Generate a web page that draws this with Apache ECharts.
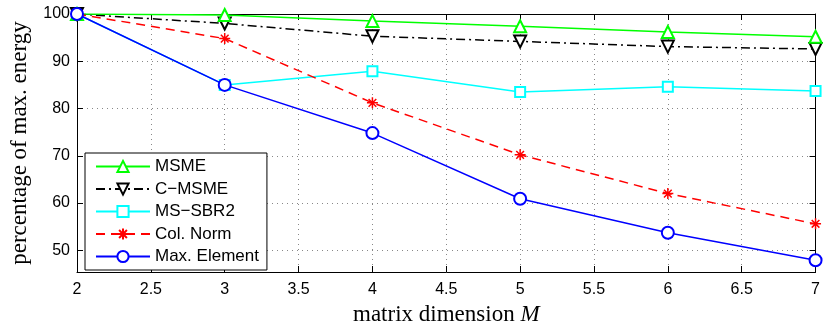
<!DOCTYPE html>
<html><head><meta charset="utf-8">
<script src="https://cdn.jsdelivr.net/npm/echarts@6/dist/echarts.min.js"></script>
<style>html,body{margin:0;padding:0;background:#fff}#c{width:823px;height:331px}</style>
</head><body><div id="c"></div>
<script>
const xValues = [2, 3, 4, 5, 6, 7];
const xTicks = [2, 2.5, 3, 3.5, 4, 4.5, 5, 5.5, 6, 6.5, 7];
const yTicks = [50, 60, 70, 80, 90, 100];
const msme = [100, 99.8, 98.5, 97.4, 96.2, 95.2];
const cmsme = [100, 98.0, 95.3, 94.2, 93.1, 92.6];
const msSbr2 = [100, 85.0, 87.9, 83.5, 84.6, 83.7];
const colNorm = [100, 94.8, 81.2, 70.2, 62.0, 55.6];
const maxElement = [100, 85.0, 74.8, 60.9, 53.7, 47.9];
const names = ['MSME', 'C\u2212MSME', 'MS\u2212SBR2', 'Col. Norm', 'Max. Element'];

const pair = arr => xValues.map((x, i) => [x, arr[i]]);
const star = 'path://M0,-10L0,10M-10,0L10,0M-7,-7L7,7M-7,7L7,-7';
const font = 'Liberation Sans';
const serif = 'Liberation Serif';
const gridLine = {show: true, lineStyle: {color: '#888', type: [1, 4], width: 1}};

const chart = echarts.init(document.getElementById('c'), null, {renderer: 'canvas'});
chart.setOption({
  animation: false,
  backgroundColor: '#fff',
  grid: {left: 77, right: 2, top: 14, bottom: 55, containLabel: false},
  xAxis: [{
    type: 'value', min: 2, max: 7, interval: 0.5,
    axisLine: {lineStyle: {color: '#000', width: 1}},
    axisTick: {inside: true, length: 6, lineStyle: {color: '#000'}},
    axisLabel: {color: '#000', fontFamily: font, fontSize: 16, margin: 10,
      customValues: xTicks, formatter: v => String(v)},
    splitLine: gridLine,
    name: '{a|matrix dimension }{b|M}', nameLocation: 'middle', nameGap: 31,
    nameTextStyle: {rich: {
      a: {fontFamily: serif, fontSize: 23, color: '#000'},
      b: {fontFamily: serif, fontStyle: 'italic', fontSize: 23, color: '#000'}}}
  }, {
    type: 'value', min: 2, max: 7, interval: 0.5, position: 'top',
    axisLine: {lineStyle: {color: '#000', width: 1}},
    axisTick: {inside: true, length: 6, lineStyle: {color: '#000'}},
    axisLabel: {show: false}, splitLine: {show: false}
  }],
  yAxis: [{
    type: 'value', min: 45.4, max: 100,
    axisLine: {show: true, lineStyle: {color: '#000', width: 1}},
    axisTick: {show: true, inside: true, length: 6, customValues: yTicks, lineStyle: {color: '#000'}},
    axisLabel: {color: '#000', fontFamily: font, fontSize: 16, margin: 7, customValues: yTicks},
    splitLine: gridLine,
    name: 'percentage of max. energy', nameLocation: 'middle', nameGap: 46,
    nameTextStyle: {fontFamily: serif, fontSize: 23, color: '#000'}
  }, {
    type: 'value', min: 45.4, max: 100, position: 'right',
    axisLine: {show: true, lineStyle: {color: '#000', width: 1}},
    axisTick: {show: true, inside: true, length: 6, customValues: yTicks, lineStyle: {color: '#000'}},
    axisLabel: {show: false, customValues: yTicks}, splitLine: {show: false}
  }],
  legend: {
    orient: 'vertical', left: 85, top: 153,
    itemWidth: 54, itemHeight: 14, itemGap: 5.5,
    padding: [5, 8, 5, 10],
    backgroundColor: '#fff', borderColor: '#000', borderWidth: 1,
    textStyle: {fontFamily: font, fontSize: 17, color: '#000'},
    data: names
  },
  series: [
    {name: names[0], type: 'line', data: pair(msme), z: 5,
      lineStyle: {color: '#00ff00', width: 1.5}, itemStyle: {color: '#00ff00', borderWidth: 1.5},
      symbol: 'emptyTriangle', symbolSize: 12},
    {name: names[1], type: 'line', data: pair(cmsme), z: 4,
      lineStyle: {color: '#000', width: 1.5, type: [9, 4, 2, 4]}, itemStyle: {color: '#000', borderWidth: 1.5},
      symbol: 'emptyTriangle', symbolRotate: 180, symbolSize: 12},
    {name: names[2], type: 'line', data: pair(msSbr2), z: 3,
      lineStyle: {color: '#00ffff', width: 1.5}, itemStyle: {color: '#00ffff', borderWidth: 1.5},
      symbol: 'emptyRect', symbolSize: 10},
    {name: names[3], type: 'line', data: pair(colNorm), z: 6,
      lineStyle: {color: '#ff0000', width: 1.5, type: [9, 6]},
      itemStyle: {color: '#ff0000', borderColor: '#ff0000', borderWidth: 1.5},
      symbol: star, symbolSize: 11},
    {name: names[4], type: 'line', data: pair(maxElement), z: 7,
      lineStyle: {color: '#0000ff', width: 1.5}, itemStyle: {color: '#0000ff', borderWidth: 1.5},
      symbol: 'emptyCircle', symbolSize: 12}
  ]
});
</script></body></html>
